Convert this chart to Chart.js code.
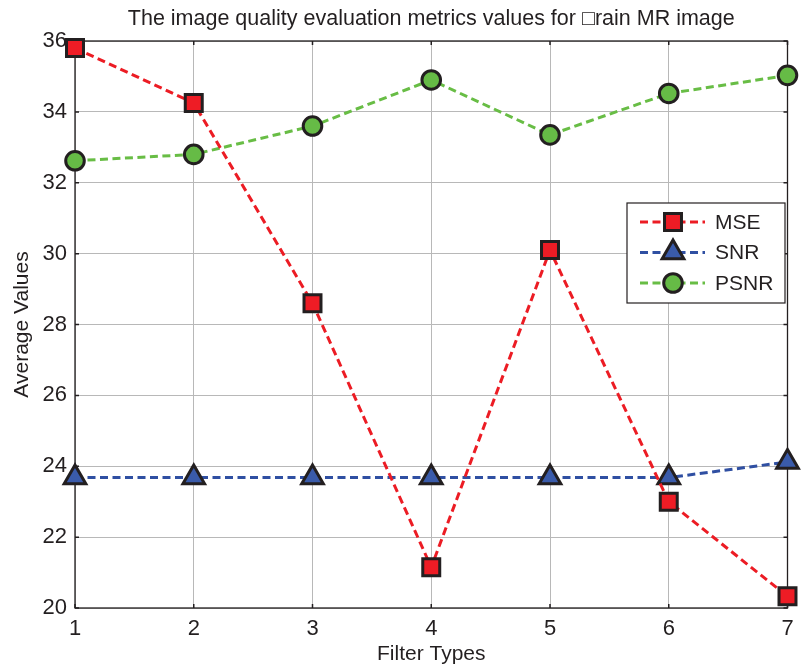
<!DOCTYPE html>
<html>
<head>
<meta charset="utf-8">
<script src="https://cdn.jsdelivr.net/npm/chart.js@4/dist/chart.umd.min.js"></script>
<style>
  html, body { margin: 0; padding: 0; background: #fff; }
  #wrap { width: 803px; height: 668px; }
</style>
</head>
<body>
<div id="wrap"><canvas id="chart"></canvas></div>
<script>
// Данные графика
const filterTypes = ["1", "2", "3", "4", "5", "6", "7"];
const mseValues = [35.8, 34.25, 28.6, 21.15, 30.1, 23.0, 20.33];
const snrValues = [23.68, 23.68, 23.68, 23.68, 23.68, 23.68, 24.12];
const psnrValues = [32.62, 32.8, 33.6, 34.9, 33.35, 34.52, 35.03];
const yTicks = [20, 22, 24, 26, 28, 30, 32, 34, 36];
const chartTitle = "The image quality evaluation metrics values for \u25A1rain MR image";

const FONT = "'Liberation Sans', Arial, sans-serif";
const edge = "#231f20";

function makeSet(label, data, line, fill, style, radius) {
    return {
        label: label,
        data: data,
        borderColor: line,
        backgroundColor: fill,
        borderWidth: 3,
        borderDash: [8, 4.5],
        pointStyle: style,
        pointRadius: radius,
        pointHoverRadius: radius,
        pointBackgroundColor: fill,
        pointBorderColor: edge,
        pointBorderWidth: 3,
        fill: false,
        tension: 0,
        clip: false,
    };
}

// рамка, засечки и заголовок по центру области графика
const boxPlugin = {
    id: "box",
    beforeDatasetsDraw(chart) {
        const { ctx, chartArea: a, scales } = chart;
        ctx.save();
        ctx.strokeStyle = edge;
        ctx.lineWidth = 1.3;
        ctx.strokeRect(a.left, a.top, a.right - a.left, a.bottom - a.top);
        ctx.lineWidth = 1.5;
        ctx.beginPath();
        scales.x.ticks.forEach((t, i) => {
            const x = scales.x.getPixelForTick(i);
            ctx.moveTo(x, a.bottom); ctx.lineTo(x, a.bottom - 4);
            ctx.moveTo(x, a.top); ctx.lineTo(x, a.top + 4);
        });
        scales.y.ticks.forEach((t, i) => {
            const y = scales.y.getPixelForTick(i);
            ctx.moveTo(a.left, y); ctx.lineTo(a.left + 4, y);
            ctx.moveTo(a.right, y); ctx.lineTo(a.right - 4, y);
        });
        ctx.stroke();
        ctx.fillStyle = edge;
        ctx.font = "21.5px " + FONT;
        ctx.textAlign = "center";
        ctx.textBaseline = "middle";
        ctx.fillText(chartTitle, (a.left + a.right) / 2, 19);
        ctx.restore();
    },
};

// легенда внутри области графика
const legendPlugin = {
    id: "boxLegend",
    afterDraw(chart) {
        const ctx = chart.ctx;
        const x0 = 627, y0 = 203, w = 158, h = 100;
        ctx.save();
        ctx.fillStyle = "#fff";
        ctx.fillRect(x0, y0, w, h);
        ctx.strokeStyle = edge;
        ctx.lineWidth = 1.2;
        ctx.strokeRect(x0, y0, w, h);
        chart.data.datasets.forEach((ds, i) => {
            const y = y0 + 19 + i * 30.5;
            ctx.strokeStyle = ds.borderColor;
            ctx.lineWidth = ds.borderWidth;
            ctx.setLineDash(ds.borderDash);
            ctx.beginPath();
            ctx.moveTo(x0 + 13, y);
            ctx.lineTo(x0 + 78, y);
            ctx.stroke();
            ctx.setLineDash([]);
            ctx.fillStyle = ds.pointBackgroundColor;
            ctx.strokeStyle = ds.pointBorderColor;
            ctx.lineWidth = ds.pointBorderWidth;
            Chart.helpers.drawPoint(ctx, {
                pointStyle: ds.pointStyle,
                rotation: 0,
                radius: ds.pointRadius,
                borderWidth: ds.pointBorderWidth,
            }, x0 + 46, y);
            ctx.fillStyle = edge;
            ctx.font = "21px " + FONT;
            ctx.textBaseline = "middle";
            ctx.textAlign = "left";
            ctx.fillText(ds.label, x0 + 88, y + 1);
        });
        ctx.restore();
    },
};

new Chart(document.getElementById("chart"), {
    type: "line",
    data: {
        labels: filterTypes,
        datasets: [
            makeSet("MSE", mseValues, "#ec1c24", "#ee1c25", "rect", 12),
            makeSet("SNR", snrValues, "#2f4fa2", "#3a5baa", "triangle", 12.5),
            makeSet("PSNR", psnrValues, "#68bd45", "#66bb46", "circle", 9.3),
        ],
    },
    options: {
        responsive: true,
        maintainAspectRatio: false,
        animation: false,
        layout: { padding: { left: 0, right: 9, top: 41, bottom: 0 } },
        plugins: {
            legend: { display: false },
            tooltip: { enabled: false },
        },
        scales: {
            x: {
                type: "category",
                offset: false,
                grid: { color: "#b8b8b8", lineWidth: 1, drawTicks: false },
                border: { display: false },
                ticks: {
                    color: edge,
                    padding: 8,
                    maxRotation: 0,
                    font: { family: FONT, size: 22 },
                },
                title: {
                    display: true,
                    text: "Filter Types",
                    color: edge,
                    font: { family: FONT, size: 21 },
                    padding: { top: 0, bottom: 1 },
                },
                afterFit(scale) { scale.height = 60; },
            },
            y: {
                min: 20,
                max: 36,
                afterBuildTicks(scale) {
                    scale.ticks = yTicks.map((v) => ({ value: v }));
                },
                grid: { color: "#b8b8b8", lineWidth: 1, drawTicks: false },
                border: { display: false },
                ticks: {
                    color: edge,
                    padding: 8,
                    font: { family: FONT, size: 22 },
                },
                title: {
                    display: true,
                    text: "Average Values",
                    color: edge,
                    font: { family: FONT, size: 21 },
                    padding: { top: 10, bottom: 0 },
                },
                afterFit(scale) { scale.width = 75; },
            },
        },
    },
    plugins: [boxPlugin, legendPlugin],
});
</script>
</body>
</html>
